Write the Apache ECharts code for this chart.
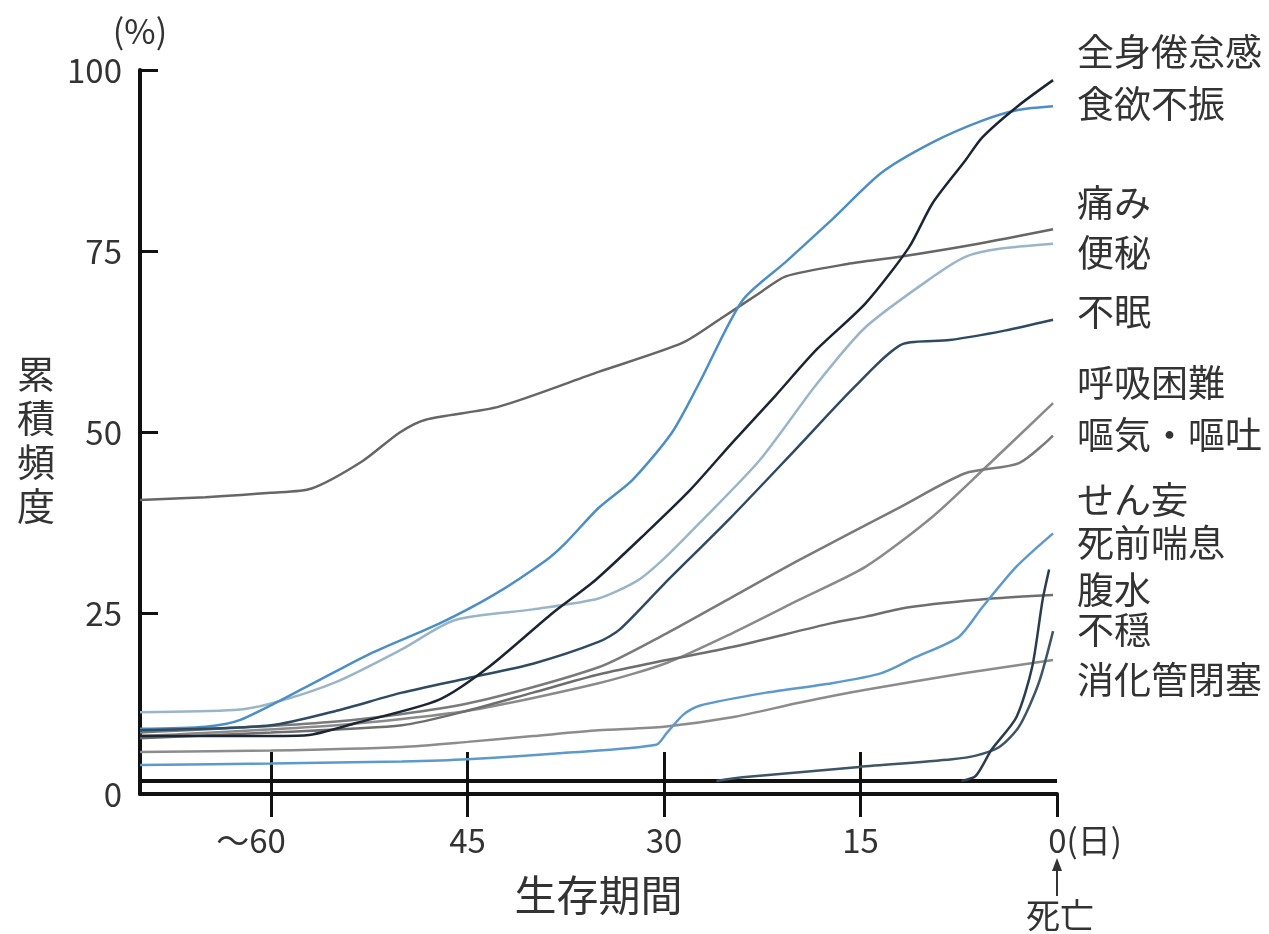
<!DOCTYPE html>
<html>
<head>
<meta charset="utf-8">
<script src="https://cdn.jsdelivr.net/npm/echarts@6/dist/echarts.min.js"></script>
<style>
    html, body { margin: 0; padding: 0; background: #fff; }
    #chart { width: 1269px; height: 934px; }
</style>
</head>
<body>
<div id="chart"></div>
<script>
// 生存期間（日, 死亡前）と累積頻度（%）
const dayTicks = [0, 15, 30, 45, 60];
const pctTicks = [0, 25, 50, 75, 100];

const zenshin = [[70,8],[60,8],[57.3,8.1],[53.5,9.8],[47.2,13],[43.4,17.5],[38.5,25],[35.2,29.6],[31.4,36],[28,42],[24.8,48.5],[21.5,55],[18.4,61.3],[14.6,67.8],[11.3,75.5],[9.5,81.6],[7,87.5],[5.7,90.7],[3,95],[0.3,98.6]];
const shokuyoku = [[70,9],[65,9.3],[62.4,10.2],[57.3,14.8],[52.3,19.5],[47.2,23.5],[43,27.5],[39,32.3],[37.5,34.7],[35,39.5],[32.4,43.4],[29.4,49.9],[27.3,56.8],[24,68.2],[20.7,73.5],[17.2,79.3],[13.4,85.8],[9.5,90],[5.7,93],[2.9,94.5],[0.3,95]];
const itami = [[70,40.6],[65,41],[60,41.6],[56.9,42.2],[53,46],[50.2,49.9],[48.2,51.7],[42.6,53.5],[35,58.3],[28.6,62.3],[25.8,65.5],[22.7,69.2],[20.7,71.5],[16,73.2],[12,74.2],[6,76],[0.3,78]];
const benpi = [[70,11.3],[62.8,11.6],[60,12.5],[55,15.5],[50,20],[46,24],[40,25.5],[35,27],[32,29.5],[30,32.5],[27.3,37.4],[22.7,46.1],[18.4,56.5],[14.6,64.5],[9.5,71.4],[7,74.2],[4.4,75.3],[0.3,76]];
const fumin = [[70,8.8],[60,9.5],[55,11.5],[50,14],[45,16],[40,18],[35,21],[33.4,22.7],[30,29],[25,38],[20,47.5],[15.3,56.5],[11.7,62.2],[8.2,62.7],[4,64],[0.3,65.5]];
const kokyu = [[70,8],[55,9.5],[45,11.5],[35,15.3],[29.8,18.1],[24.8,22.2],[19.7,26.8],[14.6,31.4],[9.5,38.3],[5.4,45.2],[0.3,54]];
const oki = [[70,8.5],[55,10],[45,12.5],[35,17.5],[29.8,22.2],[24.8,27.2],[19.7,32.3],[12,39.6],[7,44.3],[2.9,45.7],[0.3,49.5]];
const senmou = [[70,4],[60,4.2],[50,4.5],[45,4.8],[37.5,5.7],[30.6,6.8],[29.8,8.4],[28.5,11],[27.3,12.2],[22.2,14],[17.2,15.3],[13.4,16.7],[10.8,18.9],[7.5,21.7],[5.7,25.8],[3.1,31.4],[0.3,36]];
const zensen = [[7.3,1.8],[6.2,2.5],[5,6.1],[3.1,10.6],[1.9,17.5],[1.1,26.8],[0.6,31]];
const fukusui = [[70,7.7],[60,8.5],[50,9.5],[45,11.5],[40,14],[35,16.5],[29.8,18.5],[24.8,20.3],[17.2,23.6],[14.6,24.5],[11.3,25.8],[5,27],[0.3,27.5]];
const fuon = [[26,1.8],[24,2.3],[15.3,3.7],[8,4.8],[6.2,5.3],[4.4,6.5],[2.9,9.3],[1.4,15.3],[0.3,22.5]];
const shokaki = [[70,5.8],[60,6],[50,6.5],[45,7.2],[40,8],[35,8.8],[30,9.3],[24.8,10.6],[19.7,12.6],[14.6,14.4],[7,16.7],[0.3,18.5]];

const names = ['全身倦怠感', '食欲不振', '痛み', '便秘', '不眠', '呼吸困難', '嘔気・嘔吐', 'せん妄', '死前喘息', '腹水', '不穏', '消化管閉塞'];
const values = [zenshin, shokuyoku, itami, benpi, fumin, kokyu, oki, senmou, zensen, fukusui, fuon, shokaki];
const colors = ['#1c2533', '#4d8fc4', '#666666', '#9bb5c8', '#2f4a63', '#8a8a8a', '#7a7a7a', '#5d9acb', '#2b3d4c', '#6e6e6e', '#3e5566', '#8c8c8c'];
// labels on the right are stacked, not at line ends
const labelY = [52, 104, 203, 253, 312, 383, 435, 500, 543, 590, 630, 680];

const font = "'Noto Sans CJK JP', 'Noto Sans', sans-serif";
const txt = '#333';

const chart = echarts.init(document.getElementById('chart'));

// light lines first, dark ones on top
const drawOrder = [3, 5, 11, 6, 2, 9, 1, 7, 4, 10, 8, 0];
const series = drawOrder.map(function (i, k) {
    const s = {
        name: names[i],
        type: 'line',
        data: values[i],
        showSymbol: false,
        smooth: 0.25,
        lineStyle: { color: colors[i], width: 2.5 },
        z: 2 + k
    };
    if (k === 0) {
        s.markLine = {
            silent: true,
            symbol: 'none',
            label: { show: false },
            lineStyle: { color: '#111', width: 4, type: 'solid' },
            data: [{ yAxis: 1.8 }]
        };
    }
    return s;
});

const graphic = names.map(function (n, i) {
    return {
        type: 'text',
        x: 1077,
        y: labelY[i],
        style: { text: n, fontSize: 37, fontFamily: font, fill: txt, verticalAlign: 'middle' }
    };
});
graphic.push({
    type: 'text', x: 36, y: 440,
    style: { text: '累\n積\n頻\n度', fontSize: 38, lineHeight: 44, fontFamily: font, fill: txt, align: 'center', verticalAlign: 'middle' }
});
graphic.push({ type: 'line', shape: { x1: 1057, y1: 896, x2: 1057, y2: 864 }, style: { stroke: txt, lineWidth: 2 } });
graphic.push({ type: 'polygon', shape: { points: [[1057, 858], [1052, 871], [1062, 871]] }, style: { fill: txt } });
graphic.push({
    type: 'text', x: 1060, y: 915,
    style: { text: '死亡', fontSize: 34, fontFamily: font, fill: txt, align: 'center', verticalAlign: 'middle' }
});

const option = {
    animation: false,
    backgroundColor: '#fff',
    grid: { left: 140, right: 212, top: 70, bottom: 140 },
    xAxis: [
        {
            type: 'value',
            min: 0,
            max: 70,
            inverse: true,
            name: '生存期間',
            nameLocation: 'middle',
            nameGap: 80,
            nameTextStyle: { fontSize: 42, fontFamily: font, color: txt },
            axisLine: { onZero: false, lineStyle: { color: '#111', width: 4 } },
            axisTick: { customValues: dayTicks, length: 23, lineStyle: { color: '#111', width: 3 } },
            splitLine: { show: false },
            axisLabel: {
                customValues: dayTicks,
                margin: 30,
                fontSize: 33,
                fontFamily: font,
                color: txt,
                formatter: function (v) {
                    if (v === 60) return '{l|〜60}';
                    if (v === 0) return '{r|0(日)}';
                    return String(v);
                },
                rich: {
                    l: { fontSize: 33, fontFamily: font, color: txt, padding: [0, 40, 0, 0] },
                    r: { fontSize: 33, fontFamily: font, color: txt, padding: [0, 0, 0, 56] }
                }
            }
        },
        {
            type: 'value',
            min: 0,
            max: 70,
            inverse: true,
            position: 'bottom',
            axisLine: { show: false, onZero: false },
            axisTick: { inside: true, customValues: dayTicks.slice(1), length: 42, lineStyle: { color: '#111', width: 3 } },
            axisLabel: { show: false },
            splitLine: { show: false }
        }
    ],
    yAxis: {
        type: 'value',
        position: 'left',
        min: 0,
        max: 100,
        interval: 25,
        name: '(%)',
        nameLocation: 'end',
        nameGap: 22,
        nameTextStyle: { fontSize: 34, fontFamily: font, color: txt, align: 'center' },
        axisLine: { show: true, onZero: false, lineStyle: { color: '#111', width: 4 } },
        axisTick: { inside: true, length: 18, lineStyle: { color: '#111', width: 3 } },
        splitLine: { show: false },
        axisLabel: {
            margin: 18,
            fontSize: 33,
            fontFamily: font,
            color: txt,
            customValues: pctTicks
        }
    },
    graphic: graphic,
    series: series
};

chart.setOption(option);
window.addEventListener('resize', chart.resize);
</script>
</body>
</html>
